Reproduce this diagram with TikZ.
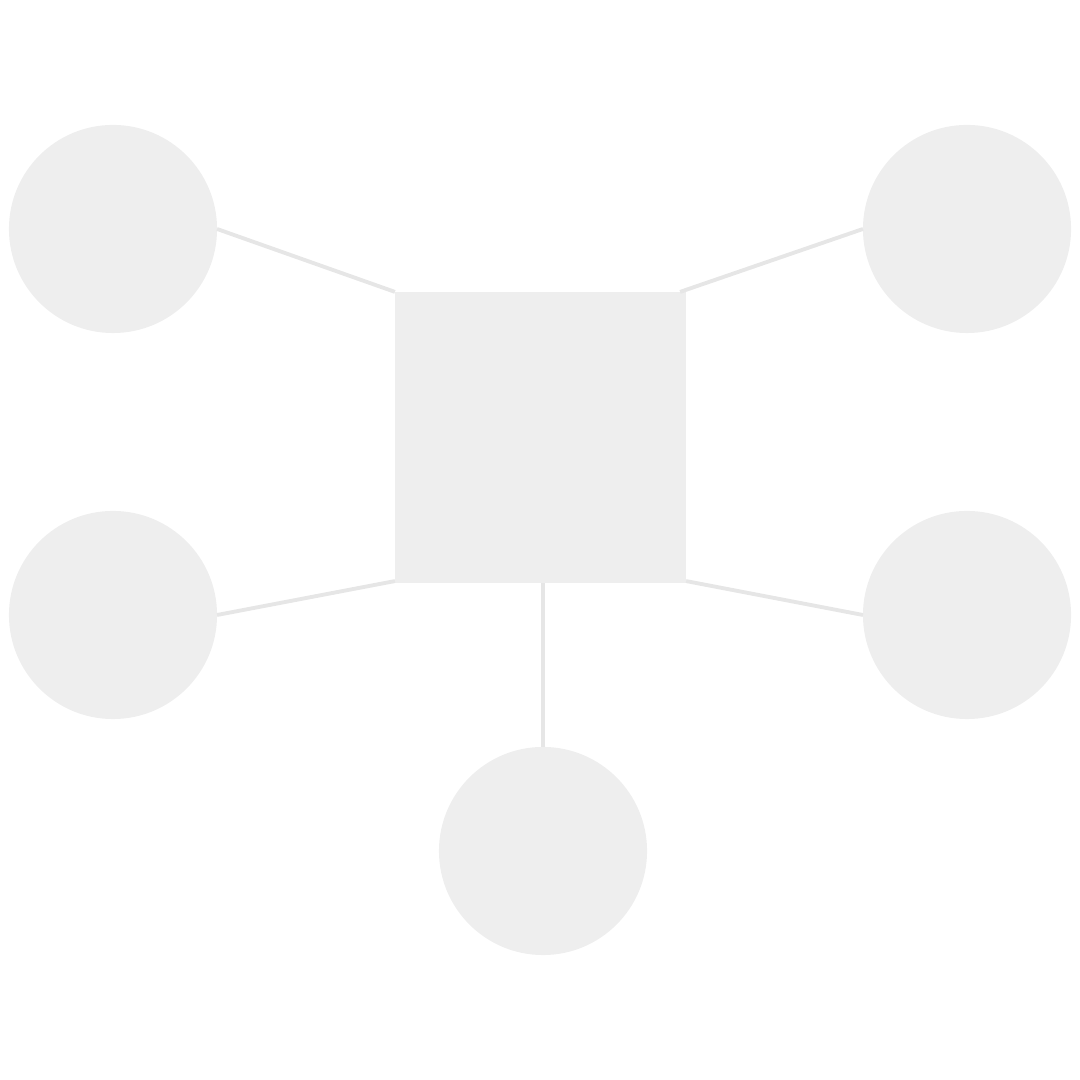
\documentclass[tikz,border=0pt]{standalone}
\usepackage{xcolor}
\definecolor{PaperGrey}{HTML}{EEEEEE}
\definecolor{LinkGrey}{HTML}{E6E6E6}
\usepackage{tikz}
\usetikzlibrary{calc}
\tikzset{>=latex}
\begin{document}
\begin{tikzpicture}[x=0.01cm,y=0.01cm,
	hubbox/.style={rectangle,fill=PaperGrey,draw=none,minimum width=2.91cm,minimum height=2.91cm,inner sep=0,outer sep=0},
	leafdisc/.style={circle,fill=PaperGrey,draw=none,minimum size=2.08cm,inner sep=0,outer sep=0},
	linkline/.style={LinkGrey,line width=1.1pt}]
		
		\useasboundingbox (0,0) rectangle (1080,1080);
		
		\def\LeftCol{113}
		\def\RightCol{967}
		\def\TopRow{851}
		\def\MidRow{465}
		
		%% CENTRE
		\node[hubbox] (Hub) at (540.5,642.5) {};
		
		%% DISCS
		\node[leafdisc] (DiscTL) at (\LeftCol,\TopRow) {};
		\node[leafdisc] (DiscTR) at (\RightCol,\TopRow) {};
		\node[leafdisc] (DiscML) at (\LeftCol,\MidRow) {};
		\node[leafdisc] (DiscMR) at (\RightCol,\MidRow) {};
		\node[leafdisc] (DiscB) at (543,229) {};
		
		%% LINKS
		\draw[linkline] (DiscTL.east) -- (Hub.north west);
		\draw[linkline] (DiscTR.west) -- ([xshift=-0.06cm]Hub.north east);
		\draw[linkline] (DiscML.east) -- ([yshift=0.02cm]Hub.south west);
		\draw[linkline] (DiscMR.west) -- ([yshift=0.02cm]Hub.south east);
		\draw[linkline] (Hub.south -| DiscB) -- (DiscB.north);
		
	\end{tikzpicture}
\end{document}
